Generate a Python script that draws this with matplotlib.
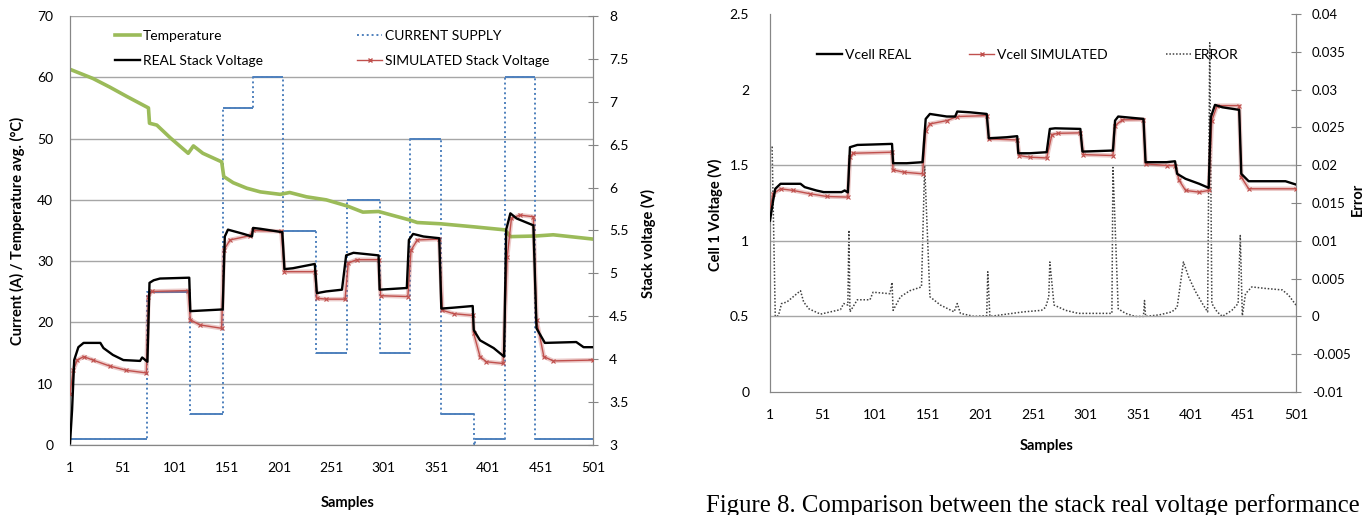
import numpy as np
import matplotlib
matplotlib.use("Agg")
import matplotlib.pyplot as plt
from matplotlib.lines import Line2D
from matplotlib.ticker import FuncFormatter

plt.rcParams["font.family"] = ["Lato", "DejaVu Sans"]

# ---- left panel: stack test ----
sample_ticks = [1, 51, 101, 151, 201, 251, 301, 351, 401, 451, 501]

current_start = [1, 75, 116, 147, 176, 205, 236, 266, 297, 326, 356, 387, 388, 417, 446]
current_level = [1, 25, 5, 55, 60, 35, 15, 40, 15, 50, 5, 0, 1, 60, 1]
last_sample = 501

temp_s = [1, 23, 39, 55, 76, 77, 84, 97, 114, 119, 128, 146, 148, 157, 170, 183,
          202, 211, 227, 246, 266, 281, 296, 326, 333, 355, 387, 417, 422, 446, 463, 501]
temp_v = [61.3, 59.8, 58.4, 56.9, 55.0, 52.5, 52.2, 50.1, 47.6, 48.8, 47.6, 46.2, 43.8, 42.8, 41.9, 41.3,
          40.9, 41.2, 40.5, 40.0, 39.0, 38.0, 38.1, 36.7, 36.3, 36.1, 35.6, 35.1, 34.0, 34.1, 34.3, 33.6]

real_s = [1, 3, 5, 9, 14, 30, 33, 42, 52, 68, 70, 75, 77, 81, 87, 115, 116, 147, 149, 152,
          167, 175, 176, 183, 204, 206, 214, 235, 237, 246, 261, 265, 272, 296, 297, 323, 325, 329, 339, 354,
          356, 367, 386, 387, 393, 406, 416, 418, 422, 428, 444, 447, 455, 485, 492, 501]
real_v = [3.02, 3.41, 3.99, 4.14, 4.19, 4.19, 4.13, 4.05, 3.99, 3.98, 4.02, 3.97, 4.89, 4.92, 4.94, 4.95, 4.56, 4.58, 5.43, 5.51,
          5.46, 5.43, 5.53, 5.52, 5.48, 5.05, 5.06, 5.11, 4.77, 4.79, 4.81, 5.21, 5.24, 5.21, 4.81, 4.83, 5.39, 5.46, 5.43, 5.41,
          4.59, 4.60, 4.62, 4.34, 4.22, 4.13, 4.03, 5.51, 5.70, 5.64, 5.56, 4.36, 4.19, 4.20, 4.14, 4.14]

sim_s = [1, 4, 8, 14, 23, 39, 55, 74, 76, 79, 114, 116, 125, 146, 148, 154, 173, 176, 203, 206,
         235, 237, 246, 264, 267, 275, 296, 298, 324, 327, 333, 354, 357, 368, 386, 387, 393, 399, 415, 419,
         423, 431, 444, 447, 454, 463, 501]
sim_v = [3.60, 3.87, 3.99, 4.03, 3.99, 3.92, 3.87, 3.84, 4.73, 4.79, 4.80, 4.46, 4.40, 4.36, 5.27, 5.39, 5.44, 5.50, 5.49, 5.02,
         5.02, 4.71, 4.70, 4.70, 5.12, 5.16, 5.16, 4.74, 4.73, 5.27, 5.39, 5.40, 4.57, 4.53, 4.51, 4.30, 4.03, 3.97, 3.95, 5.19,
         5.64, 5.68, 5.66, 4.46, 4.03, 3.98, 3.99]

# ---- right panel: cell 1 ----
cell_real_s = [1, 4, 6, 11, 30, 34, 45, 52, 69, 72, 75, 77, 84, 99, 117, 118, 131, 146, 149, 153,
               169, 177, 179, 191, 207, 209, 226, 236, 237, 248, 264, 267, 272, 296, 298, 327, 329, 332, 356, 358,
               378, 386, 388, 396, 409, 418, 420, 424, 431, 447, 449, 456, 491, 501]
cell_real_v = [1.134, 1.267, 1.344, 1.377, 1.377, 1.355, 1.333, 1.322, 1.322, 1.333, 1.320, 1.619, 1.634, 1.637, 1.641, 1.513, 1.513, 1.520, 1.806, 1.839,
               1.822, 1.822, 1.855, 1.850, 1.839, 1.678, 1.685, 1.692, 1.579, 1.579, 1.586, 1.740, 1.744, 1.740, 1.590, 1.597, 1.795, 1.822, 1.806, 1.520,
               1.520, 1.526, 1.443, 1.410, 1.377, 1.350, 1.817, 1.899, 1.883, 1.866, 1.443, 1.394, 1.394, 1.372]

cell_sim_s = [1, 4, 11, 23, 39, 55, 75, 77, 80, 117, 118, 128, 146, 149, 153, 169, 179, 207, 209, 236,
              238, 248, 264, 269, 275, 296, 299, 327, 329, 336, 356, 358, 378, 386, 390, 396, 409, 418, 421, 426,
              447, 449, 456, 501]
cell_sim_v = [1.222, 1.311, 1.344, 1.333, 1.311, 1.293, 1.289, 1.553, 1.579, 1.586, 1.469, 1.454, 1.443, 1.729, 1.773, 1.795, 1.822, 1.828, 1.674, 1.667,
              1.564, 1.553, 1.548, 1.703, 1.711, 1.714, 1.570, 1.564, 1.762, 1.800, 1.802, 1.509, 1.498, 1.498, 1.399, 1.333, 1.322, 1.333, 1.795, 1.894,
              1.894, 1.421, 1.344, 1.344]

err_s = [1, 3, 6, 9, 12, 17, 30, 33, 38, 49, 68, 71, 75, 76, 77, 84, 96, 99, 115, 117,
         118, 125, 134, 145, 148, 153, 163, 176, 179, 182, 195, 207, 208, 210, 226, 242, 259, 263, 266, 267,
         271, 282, 294, 307, 326, 327, 332, 339, 348, 356, 357, 358, 371, 383, 388, 394, 399, 405, 412, 417,
         419, 421, 426, 431, 440, 446, 448, 450, 453, 459, 472, 488, 494, 501]
err_v = [0.0220, 0.0224, 0.0000, 0.0001, 0.0017, 0.0019, 0.0034, 0.0019, 0.0010, 0.0003,
         0.0009, 0.0017, 0.0015, 0.0114, 0.0006, 0.0022, 0.0022, 0.0032, 0.0030, 0.0045,
         0.0008, 0.0026, 0.0034, 0.0039, 0.0200, 0.0026, 0.0015, 0.0006, 0.0017, 0.0004,
         0.0000, 0.0001, 0.0059, 0.0000, 0.0003, 0.0006, 0.0008, 0.0012, 0.0026, 0.0072,
         0.0015, 0.0008, 0.0004, 0.0004, 0.0004, 0.0197, 0.0010, 0.0004, 0.0000, 0.0000,
         0.0021, 0.0000, 0.0002, 0.0006, 0.0012, 0.0072, 0.0052, 0.0034, 0.0017, 0.0006,
         0.0362, 0.0017, 0.0006, 0.0000, 0.0008, 0.0017, 0.0107, 0.0001, 0.0030, 0.0039,
         0.0037, 0.0035, 0.0028, 0.0015]

cell_grid = [0.5, 1.0, 1.5]

GREEN = "#9BBB59"
BLUE = "#4F81BD"
RED = "#C0504D"
ERR_GRAY = "#404040"
AXIS_GRAY = "#868686"
GRID_GRAY = "#A6A6A6"

W, H = 1366, 515
fig = plt.figure(figsize=(W / 100, H / 100), dpi=100)


def px_axes(left, right, top, bottom):
    return fig.add_axes([left / W, 1 - bottom / H, (right - left) / W, (bottom - top) / H])


fmt = FuncFormatter(lambda v, _: "%g" % round(v, 4))


def style_axes(ax, axr):
    for a in (ax, axr):
        for side in ("left", "right", "bottom"):
            a.spines[side].set_color(AXIS_GRAY)
        a.spines["top"].set_visible(False)
    ax.set_xlim(1, last_sample)
    ax.set_xticks(sample_ticks)
    ax.tick_params(axis="x", length=0, pad=12, labelsize=10)
    ax.tick_params(axis="y", length=0, pad=12, labelsize=10)
    axr.tick_params(axis="y", direction="inout", length=7, color=AXIS_GRAY, pad=8, labelsize=10)
    ax.yaxis.set_major_formatter(fmt)
    axr.yaxis.set_major_formatter(fmt)


label_kw = dict(fontsize=10.5, fontweight="bold")

# ================= left panel =================
ax1 = px_axes(70, 593, 16, 445)
ax1r = ax1.twinx()
style_axes(ax1, ax1r)

ax1.set_ylim(0, 70)
ax1.set_yticks(np.arange(0, 71, 10))
ax1.yaxis.grid(True, color=GRID_GRAY, lw=1)
ax1.set_axisbelow(True)
ax1r.set_ylim(3, 8)
ax1r.set_yticks(np.arange(3, 8.01, 0.5))

# current supply: piecewise-constant steps (dotted jumps, solid plateaus)
cur_edges = current_start[1:] + [last_sample]
cur_x = np.repeat(current_start + [last_sample], 2)[1:-1]
cur_y = np.repeat(current_level, 2)
ax1.plot(cur_x, cur_y, color=BLUE, lw=1.4, ls=(0, (1, 1.5)), zorder=2)
ax1.hlines(current_level, current_start, cur_edges, color=BLUE, lw=1.4, zorder=2)

ax1.plot(temp_s, temp_v, color=GREEN, lw=2.6, zorder=3)

ax1r.plot(sim_s, sim_v, color=RED, lw=3.2, alpha=0.3, zorder=2)
ax1r.plot(sim_s, sim_v, color=RED, lw=1.0, marker="x", ms=3, mew=0.8, zorder=3)
ax1r.plot(real_s, real_v, color="black", lw=1.7, zorder=4)

ax1.set_xlabel("Samples", **label_kw)
ax1.xaxis.set_label_coords(0.53, -0.119)
ax1.set_ylabel("Current (A) / Temperature avg. (°C)", **label_kw)
ax1.yaxis.set_label_coords(-0.086, 0.5)
ax1r.set_ylabel("Stack voltage (V)", **label_kw)
ax1r.yaxis.set_label_coords(1.092, 0.469)

h_temp = Line2D([], [], color=GREEN, lw=2.6)
h_cur = Line2D([], [], color=BLUE, lw=1.4, ls=(0, (1, 1.5)))
h_real = Line2D([], [], color="black", lw=1.7)
h_sim = Line2D([], [], color=RED, lw=1.0, marker="x", ms=3)
fig.legend([h_temp, h_real, h_cur, h_sim],
           ["Temperature", "REAL Stack Voltage", "CURRENT SUPPLY", "SIMULATED Stack Voltage"],
           ncol=2, loc="upper left", bbox_to_anchor=(115 / W, 1 - 30 / H), frameon=False,
           fontsize=10, borderpad=0, borderaxespad=0, handlelength=1.8, handletextpad=0.2,
           labelspacing=0.95, columnspacing=6.8)

# ================= right panel =================
ax2 = px_axes(770, 1296, 14, 392)
ax2r = ax2.twinx()
style_axes(ax2, ax2r)

ax2.set_ylim(0, 2.5)
ax2.set_yticks(np.arange(0, 2.51, 0.5))
for g in cell_grid:
    ax2.axhline(g, color=GRID_GRAY, lw=1, zorder=0)
ax2r.set_ylim(-0.01, 0.04)
ax2r.set_yticks(np.arange(-0.01, 0.0401, 0.005))
ax2.tick_params(axis="y", pad=15)
ax2r.tick_params(axis="y", pad=8, labelsize=9.5)

ax2r.plot(err_s, err_v, color=ERR_GRAY, lw=1.1, ls=(0, (1, 1.2)), zorder=2)

ax2.plot(cell_sim_s, cell_sim_v, color=RED, lw=3.2, alpha=0.3, zorder=2)
ax2.plot(cell_sim_s, cell_sim_v, color=RED, lw=1.0, marker="x", ms=3, mew=0.8, zorder=3)
ax2.plot(cell_real_s, cell_real_v, color="black", lw=1.7, zorder=4)
ax2.set_zorder(ax2r.get_zorder() + 1)
ax2.patch.set_visible(False)

ax2.set_xlabel("Samples", **label_kw)
ax2.xaxis.set_label_coords(0.525, -0.124)
ax2.set_ylabel("Cell 1 Voltage (V)", **label_kw)
ax2.yaxis.set_label_coords(-0.089, 0.468)
ax2r.set_ylabel("Error", **label_kw)
ax2r.yaxis.set_label_coords(1.104, 0.51)

h_creal = Line2D([], [], color="black", lw=1.7)
h_csim = Line2D([], [], color=RED, lw=1.0, marker="x", ms=3)
h_err = Line2D([], [], color=ERR_GRAY, lw=1.1, ls=(0, (1, 1.2)))
fig.legend([h_creal, h_csim, h_err], ["Vcell REAL", "Vcell SIMULATED", "ERROR"],
           ncol=3, loc="upper left", bbox_to_anchor=(817 / W, 1 - 49 / H), frameon=False,
           fontsize=10, borderpad=0, borderaxespad=0, handlelength=1.8, handletextpad=0.2,
           columnspacing=4.2)

fig.text(706 / W, 3 / H, "Figure 8. Comparison between the stack real voltage performance",
         family=["Liberation Serif", "DejaVu Serif"], fontsize=17.8, ha="left", va="baseline")

fig.savefig("out.png", dpi=100)
